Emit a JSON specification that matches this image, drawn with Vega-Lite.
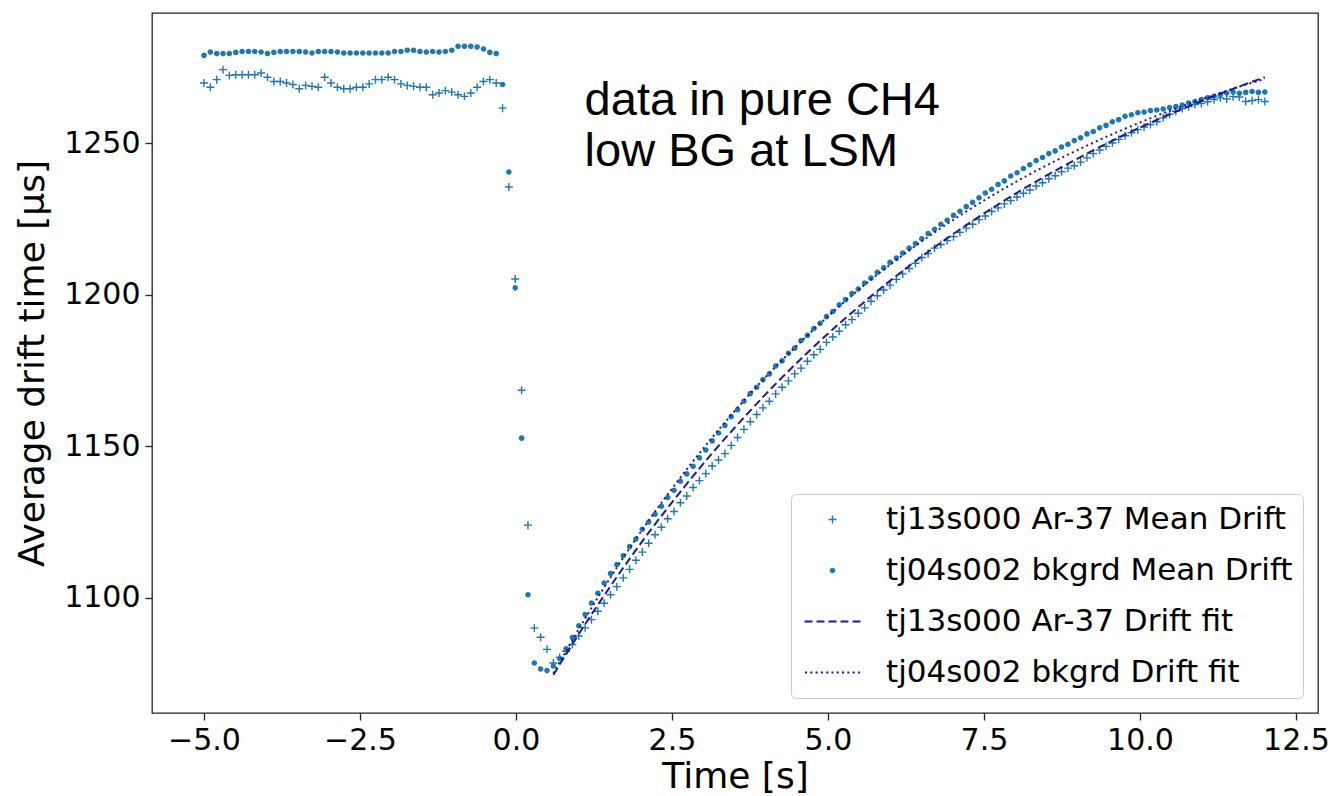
{
  "$schema": "https://vega.github.io/schema/vega-lite/v6.json",
  "width": 1166,
  "height": 700,
  "autosize": {"type": "none"},
  "padding": {"left": 152, "top": 13, "right": 19, "bottom": 83},
  "background": "white",
  "config": {
    "view": {"stroke": "#222222", "strokeWidth": 1.3},
    "axis": {
      "labelFont": "DejaVu Sans", "titleFont": "DejaVu Sans",
      "labelFontSize": 30, "titleFontSize": 36, "titleFontWeight": "normal",
      "labelColor": "#000000", "titleColor": "#000000",
      "tickColor": "#222222", "tickSize": 7, "tickWidth": 1.3,
      "domain": false, "grid": false, "labelPadding": 5
    },
    "legend": {
      "labelFont": "DejaVu Sans", "labelFontSize": 31, "labelColor": "#000000", "labelLimit": 800,
      "padding": 10, "rowPadding": 19, "symbolOffset": 16, "labelOffset": 38,
      "symbolStrokeWidth": 1.4, "symbolSize": 784,
      "fillColor": "rgba(255,255,255,0.85)", "strokeColor": "#cccccc", "cornerRadius": 5,
      "orient": "bottom-right", "offset": 15
    }
  },
  "datasets": {
    "scatter": [
      {"t": -5.000, "ar": 1269.9, "bg": 1279.0}, {"t": -4.898, "ar": 1268.5, "bg": 1280.1}, {"t": -4.796, "ar": 1271.0, "bg": 1279.6},
      {"t": -4.695, "ar": 1274.3, "bg": 1279.6}, {"t": -4.593, "ar": 1272.4, "bg": 1279.6}, {"t": -4.491, "ar": 1272.6, "bg": 1280.0},
      {"t": -4.389, "ar": 1272.6, "bg": 1280.3}, {"t": -4.287, "ar": 1272.6, "bg": 1280.3}, {"t": -4.186, "ar": 1272.6, "bg": 1280.3},
      {"t": -4.084, "ar": 1273.2, "bg": 1280.1}, {"t": -3.982, "ar": 1271.8, "bg": 1279.6}, {"t": -3.880, "ar": 1270.4, "bg": 1280.0},
      {"t": -3.778, "ar": 1270.4, "bg": 1280.3}, {"t": -3.677, "ar": 1269.9, "bg": 1280.3}, {"t": -3.575, "ar": 1269.4, "bg": 1280.3},
      {"t": -3.473, "ar": 1268.0, "bg": 1280.3}, {"t": -3.371, "ar": 1269.1, "bg": 1280.1}, {"t": -3.269, "ar": 1268.8, "bg": 1279.8},
      {"t": -3.168, "ar": 1268.5, "bg": 1280.3}, {"t": -3.066, "ar": 1271.8, "bg": 1280.3}, {"t": -2.964, "ar": 1269.9, "bg": 1280.3},
      {"t": -2.862, "ar": 1268.5, "bg": 1280.1}, {"t": -2.760, "ar": 1268.0, "bg": 1279.8}, {"t": -2.659, "ar": 1268.0, "bg": 1279.8},
      {"t": -2.557, "ar": 1268.5, "bg": 1279.8}, {"t": -2.455, "ar": 1268.5, "bg": 1279.8}, {"t": -2.353, "ar": 1269.6, "bg": 1279.8},
      {"t": -2.251, "ar": 1271.0, "bg": 1279.8}, {"t": -2.150, "ar": 1271.0, "bg": 1279.8}, {"t": -2.048, "ar": 1271.8, "bg": 1279.8},
      {"t": -1.946, "ar": 1271.0, "bg": 1280.3}, {"t": -1.844, "ar": 1269.6, "bg": 1280.3}, {"t": -1.742, "ar": 1269.1, "bg": 1280.7},
      {"t": -1.641, "ar": 1268.8, "bg": 1280.7}, {"t": -1.539, "ar": 1268.5, "bg": 1280.3}, {"t": -1.437, "ar": 1268.5, "bg": 1280.1},
      {"t": -1.335, "ar": 1266.0, "bg": 1280.3}, {"t": -1.233, "ar": 1266.6, "bg": 1280.1}, {"t": -1.132, "ar": 1267.4, "bg": 1280.3},
      {"t": -1.030, "ar": 1266.9, "bg": 1280.7}, {"t": -0.928, "ar": 1266.0, "bg": 1282.0}, {"t": -0.826, "ar": 1265.5, "bg": 1282.0},
      {"t": -0.724, "ar": 1266.6, "bg": 1282.0}, {"t": -0.623, "ar": 1268.5, "bg": 1281.8}, {"t": -0.521, "ar": 1270.4, "bg": 1281.1},
      {"t": -0.419, "ar": 1271.0, "bg": 1280.0}, {"t": -0.317, "ar": 1269.9, "bg": 1279.6}, {"t": -0.215, "ar": 1261.6, "bg": 1269.4},
      {"t": -0.114, "ar": 1235.6, "bg": 1240.5}, {"t": -0.012, "ar": 1205.2, "bg": 1202.3}, {"t": 0.090, "ar": 1168.5, "bg": 1152.7},
      {"t": 0.192, "ar": 1124.0, "bg": 1101.0}, {"t": 0.294, "ar": 1090.0, "bg": 1078.5}, {"t": 0.395, "ar": 1087.0, "bg": 1076.5},
      {"t": 0.497, "ar": 1083.0, "bg": 1076.0}, {"t": 0.599, "ar": 1078.5, "bg": 1077.5}, {"t": 0.701, "ar": 1080.3, "bg": 1080.0},
      {"t": 0.803, "ar": 1082.4, "bg": 1083.2}, {"t": 0.904, "ar": 1084.6, "bg": 1086.9}, {"t": 1.006, "ar": 1087.4, "bg": 1090.8},
      {"t": 1.108, "ar": 1090.1, "bg": 1094.5}, {"t": 1.210, "ar": 1092.8, "bg": 1098.3}, {"t": 1.312, "ar": 1095.6, "bg": 1101.5},
      {"t": 1.413, "ar": 1098.2, "bg": 1104.9}, {"t": 1.515, "ar": 1101.0, "bg": 1108.0}, {"t": 1.617, "ar": 1103.7, "bg": 1111.0},
      {"t": 1.719, "ar": 1106.6, "bg": 1113.9}, {"t": 1.821, "ar": 1109.4, "bg": 1116.9}, {"t": 1.922, "ar": 1112.4, "bg": 1119.4},
      {"t": 2.024, "ar": 1115.1, "bg": 1122.6}, {"t": 2.126, "ar": 1118.0, "bg": 1125.0}, {"t": 2.228, "ar": 1120.8, "bg": 1127.6},
      {"t": 2.330, "ar": 1123.3, "bg": 1130.2}, {"t": 2.431, "ar": 1126.1, "bg": 1133.1}, {"t": 2.533, "ar": 1128.5, "bg": 1135.5},
      {"t": 2.635, "ar": 1131.4, "bg": 1138.5}, {"t": 2.737, "ar": 1133.6, "bg": 1140.9}, {"t": 2.839, "ar": 1136.4, "bg": 1143.4},
      {"t": 2.940, "ar": 1138.7, "bg": 1146.2}, {"t": 3.042, "ar": 1141.0, "bg": 1148.8}, {"t": 3.144, "ar": 1143.5, "bg": 1151.8},
      {"t": 3.246, "ar": 1145.5, "bg": 1154.4}, {"t": 3.348, "ar": 1147.6, "bg": 1156.9}, {"t": 3.449, "ar": 1150.3, "bg": 1159.8},
      {"t": 3.551, "ar": 1152.9, "bg": 1162.1}, {"t": 3.653, "ar": 1155.6, "bg": 1164.9}, {"t": 3.755, "ar": 1158.1, "bg": 1167.4},
      {"t": 3.857, "ar": 1160.5, "bg": 1169.5}, {"t": 3.958, "ar": 1162.7, "bg": 1172.0}, {"t": 4.060, "ar": 1164.9, "bg": 1173.9},
      {"t": 4.162, "ar": 1167.3, "bg": 1176.5}, {"t": 4.264, "ar": 1169.5, "bg": 1178.2}, {"t": 4.366, "ar": 1171.6, "bg": 1180.7},
      {"t": 4.467, "ar": 1173.9, "bg": 1182.4}, {"t": 4.569, "ar": 1175.8, "bg": 1184.9}, {"t": 4.671, "ar": 1178.1, "bg": 1186.6},
      {"t": 4.773, "ar": 1180.2, "bg": 1188.9}, {"t": 4.875, "ar": 1182.0, "bg": 1190.6}, {"t": 4.976, "ar": 1184.3, "bg": 1192.8},
      {"t": 5.078, "ar": 1186.1, "bg": 1194.5}, {"t": 5.180, "ar": 1188.0, "bg": 1196.7}, {"t": 5.282, "ar": 1190.1, "bg": 1198.4},
      {"t": 5.384, "ar": 1191.8, "bg": 1200.4}, {"t": 5.485, "ar": 1193.9, "bg": 1201.9}, {"t": 5.587, "ar": 1195.7, "bg": 1203.9},
      {"t": 5.689, "ar": 1197.9, "bg": 1205.5}, {"t": 5.791, "ar": 1199.7, "bg": 1207.4}, {"t": 5.893, "ar": 1201.6, "bg": 1208.9},
      {"t": 5.994, "ar": 1203.2, "bg": 1210.7}, {"t": 6.096, "ar": 1205.1, "bg": 1212.1}, {"t": 6.198, "ar": 1206.9, "bg": 1213.8},
      {"t": 6.300, "ar": 1208.7, "bg": 1215.4}, {"t": 6.402, "ar": 1210.4, "bg": 1216.9}, {"t": 6.503, "ar": 1212.3, "bg": 1218.5},
      {"t": 6.605, "ar": 1213.6, "bg": 1220.2}, {"t": 6.707, "ar": 1215.4, "bg": 1221.6}, {"t": 6.809, "ar": 1216.6, "bg": 1223.3},
      {"t": 6.911, "ar": 1217.9, "bg": 1224.6}, {"t": 7.012, "ar": 1219.2, "bg": 1226.2}, {"t": 7.114, "ar": 1220.6, "bg": 1227.6},
      {"t": 7.216, "ar": 1222.0, "bg": 1229.1}, {"t": 7.318, "ar": 1223.3, "bg": 1230.5}, {"t": 7.420, "ar": 1224.8, "bg": 1232.0},
      {"t": 7.521, "ar": 1226.0, "bg": 1233.6}, {"t": 7.623, "ar": 1227.5, "bg": 1234.8}, {"t": 7.725, "ar": 1228.7, "bg": 1236.4},
      {"t": 7.827, "ar": 1230.0, "bg": 1237.6}, {"t": 7.929, "ar": 1231.1, "bg": 1239.2}, {"t": 8.030, "ar": 1232.3, "bg": 1240.3},
      {"t": 8.132, "ar": 1233.5, "bg": 1241.7}, {"t": 8.234, "ar": 1234.6, "bg": 1242.9}, {"t": 8.336, "ar": 1235.9, "bg": 1244.3},
      {"t": 8.438, "ar": 1237.0, "bg": 1245.3}, {"t": 8.539, "ar": 1238.3, "bg": 1246.6}, {"t": 8.641, "ar": 1239.3, "bg": 1247.5},
      {"t": 8.743, "ar": 1240.6, "bg": 1248.8}, {"t": 8.845, "ar": 1241.8, "bg": 1249.7}, {"t": 8.947, "ar": 1242.6, "bg": 1250.9},
      {"t": 9.048, "ar": 1243.8, "bg": 1251.8}, {"t": 9.150, "ar": 1245.2, "bg": 1253.1}, {"t": 9.252, "ar": 1246.6, "bg": 1253.9},
      {"t": 9.354, "ar": 1247.8, "bg": 1255.1}, {"t": 9.456, "ar": 1249.0, "bg": 1255.9}, {"t": 9.557, "ar": 1250.1, "bg": 1257.1},
      {"t": 9.659, "ar": 1251.3, "bg": 1257.8}, {"t": 9.761, "ar": 1252.5, "bg": 1258.9}, {"t": 9.863, "ar": 1253.5, "bg": 1259.4},
      {"t": 9.965, "ar": 1254.5, "bg": 1260.1}, {"t": 10.066, "ar": 1255.4, "bg": 1260.3}, {"t": 10.168, "ar": 1256.2, "bg": 1260.8},
      {"t": 10.270, "ar": 1257.1, "bg": 1261.0}, {"t": 10.372, "ar": 1258.4, "bg": 1261.3}, {"t": 10.474, "ar": 1259.6, "bg": 1261.8},
      {"t": 10.575, "ar": 1260.6, "bg": 1262.1}, {"t": 10.677, "ar": 1261.5, "bg": 1262.6}, {"t": 10.779, "ar": 1262.1, "bg": 1263.3},
      {"t": 10.881, "ar": 1262.8, "bg": 1263.8}, {"t": 10.983, "ar": 1263.1, "bg": 1264.4}, {"t": 11.084, "ar": 1263.7, "bg": 1265.0},
      {"t": 11.186, "ar": 1264.4, "bg": 1265.5}, {"t": 11.288, "ar": 1265.0, "bg": 1266.0}, {"t": 11.390, "ar": 1264.6, "bg": 1266.6},
      {"t": 11.492, "ar": 1265.4, "bg": 1266.9}, {"t": 11.593, "ar": 1265.3, "bg": 1266.5}, {"t": 11.695, "ar": 1263.8, "bg": 1266.8},
      {"t": 11.797, "ar": 1264.1, "bg": 1267.1}, {"t": 11.899, "ar": 1264.4, "bg": 1266.8}, {"t": 12.001, "ar": 1263.8, "bg": 1266.9}
    ],
    "fits": [
      {"t": 0.599, "arfit": 1074.6, "bgfit": 1075.0}, {"t": 1.108, "arfit": 1091.3, "bgfit": 1093.2},
      {"t": 1.617, "arfit": 1106.9, "bgfit": 1110.0}, {"t": 2.126, "arfit": 1121.5, "bgfit": 1125.5},
      {"t": 2.635, "arfit": 1135.0, "bgfit": 1139.7}, {"t": 3.144, "arfit": 1147.7, "bgfit": 1152.9},
      {"t": 3.653, "arfit": 1159.5, "bgfit": 1165.1}, {"t": 4.162, "arfit": 1170.6, "bgfit": 1176.3},
      {"t": 4.671, "arfit": 1180.9, "bgfit": 1186.6}, {"t": 5.180, "arfit": 1190.5, "bgfit": 1196.2},
      {"t": 5.689, "arfit": 1199.5, "bgfit": 1205.0}, {"t": 6.198, "arfit": 1207.9, "bgfit": 1213.1},
      {"t": 6.707, "arfit": 1215.7, "bgfit": 1220.6}, {"t": 7.216, "arfit": 1223.0, "bgfit": 1227.5},
      {"t": 7.725, "arfit": 1229.8, "bgfit": 1233.9}, {"t": 8.234, "arfit": 1236.2, "bgfit": 1239.8},
      {"t": 8.743, "arfit": 1242.1, "bgfit": 1245.2}, {"t": 9.252, "arfit": 1247.7, "bgfit": 1250.2},
      {"t": 9.761, "arfit": 1252.9, "bgfit": 1254.8}, {"t": 10.270, "arfit": 1257.7, "bgfit": 1259.1},
      {"t": 10.779, "arfit": 1262.2, "bgfit": 1263.0}, {"t": 11.288, "arfit": 1266.4, "bgfit": 1266.6},
      {"t": 11.797, "arfit": 1270.3, "bgfit": 1270.0}, {"t": 12.001, "arfit": 1271.8, "bgfit": 1271.2}
    ],
    "notes": [
      {"note": "data in pure CH4", "line": 1},
      {"note": "low BG at LSM", "line": 2}
    ]
  },
  "layer": [
    {
      "data": {"name": "scatter"},
      "transform": [{"fold": ["ar", "bg"], "as": ["series", "v"]}],
      "mark": {"type": "point", "size": 784, "strokeWidth": 1.4, "opacity": 1},
      "encoding": {
        "x": {
          "field": "t", "type": "quantitative",
          "scale": {"domain": [-5.833, 12.853], "nice": false, "zero": false},
          "axis": {"values": [-5, -2.5, 0, 2.5, 5, 7.5, 10, 12.5], "format": ".1f", "title": "Time [s]", "labelFlush": false, "labelOverlap": false, "titlePadding": 4}
        },
        "y": {
          "field": "v", "type": "quantitative",
          "scale": {"domain": [1062, 1293], "nice": false, "zero": false},
          "axis": {"values": [1100, 1150, 1200, 1250], "format": "d", "title": "Average drift time [μs]", "labelOverlap": false, "titlePadding": 12}
        },
        "shape": {
          "field": "series", "type": "nominal",
          "scale": {
            "domain": ["ar", "bg", "arfit", "bgfit"],
            "range": [
              "M-0.286,0H0.286M0,-0.286V0.286",
              "M-0.2,0A0.2,0.2,0,1,1,0.2,0A0.2,0.2,0,1,1,-0.2,0Z",
              "M-2,-0.07H-1.43V0.07H-2ZM-1.14,-0.07H-0.57V0.07H-1.14ZM-0.29,-0.07H0.29V0.07H-0.29ZM0.57,-0.07H1.14V0.07H0.57ZM1.43,-0.07H2V0.07H1.43Z",
              "M-1.97,-0.07H-1.82V0.07H-1.97ZM-1.59,-0.07H-1.44V0.07H-1.59ZM-1.21,-0.07H-1.06V0.07H-1.21ZM-0.83,-0.07H-0.68V0.07H-0.83ZM-0.45,-0.07H-0.3V0.07H-0.45ZM-0.07,-0.07H0.07V0.07H-0.07ZM0.3,-0.07H0.45V0.07H0.3ZM0.68,-0.07H0.83V0.07H0.68ZM1.06,-0.07H1.21V0.07H1.06ZM1.44,-0.07H1.59V0.07H1.44ZM1.82,-0.07H1.97V0.07H1.82Z"
            ]
          },
          "legend": {
            "title": null,
            "labelExpr": "datum.value === 'ar' ? 'tj13s000 Ar-37 Mean Drift' : datum.value === 'bg' ? 'tj04s002 bkgrd Mean Drift' : datum.value === 'arfit' ? 'tj13s000 Ar-37 Drift fit' : 'tj04s002 bkgrd Drift fit'"
          }
        },
        "fill": {
          "field": "series", "type": "nominal",
          "scale": {"domain": ["ar", "bg", "arfit", "bgfit"], "range": ["transparent", "#1f77b4", "#1c1c96", "#1c1c96"]},
          "legend": {
            "title": null,
            "labelExpr": "datum.value === 'ar' ? 'tj13s000 Ar-37 Mean Drift' : datum.value === 'bg' ? 'tj04s002 bkgrd Mean Drift' : datum.value === 'arfit' ? 'tj13s000 Ar-37 Drift fit' : 'tj04s002 bkgrd Drift fit'"
          }
        },
        "stroke": {
          "field": "series", "type": "nominal",
          "scale": {"domain": ["ar", "bg", "arfit", "bgfit"], "range": ["#1f77b4", "transparent", "transparent", "transparent"]},
          "legend": {
            "title": null,
            "labelExpr": "datum.value === 'ar' ? 'tj13s000 Ar-37 Mean Drift' : datum.value === 'bg' ? 'tj04s002 bkgrd Mean Drift' : datum.value === 'arfit' ? 'tj13s000 Ar-37 Drift fit' : 'tj04s002 bkgrd Drift fit'"
          }
        }
      }
    },
    {
      "data": {"name": "fits"},
      "mark": {"type": "line", "color": "#1c1c96", "strokeWidth": 2, "strokeDash": [8, 4], "interpolate": "monotone"},
      "encoding": {
        "x": {"field": "t", "type": "quantitative"},
        "y": {"field": "arfit", "type": "quantitative"}
      }
    },
    {
      "data": {"name": "fits"},
      "mark": {"type": "line", "color": "#1c1c96", "strokeWidth": 2, "strokeDash": [2, 3.3], "interpolate": "monotone"},
      "encoding": {
        "x": {"field": "t", "type": "quantitative"},
        "y": {"field": "bgfit", "type": "quantitative"}
      }
    },
    {
      "data": {"name": "notes"},
      "transform": [{"filter": "datum.line === 1"}],
      "mark": {"type": "text", "font": "Liberation Sans", "fontSize": 47, "align": "left", "baseline": "alphabetic", "fill": "#000000", "clip": false},
      "encoding": {
        "x": {"datum": 1.1},
        "y": {"datum": 1259.5},
        "text": {"field": "note"}
      }
    },
    {
      "data": {"name": "notes"},
      "transform": [{"filter": "datum.line === 2"}],
      "mark": {"type": "text", "font": "Liberation Sans", "fontSize": 47, "align": "left", "baseline": "alphabetic", "fill": "#000000", "clip": false},
      "encoding": {
        "x": {"datum": 1.1},
        "y": {"datum": 1242.5},
        "text": {"field": "note"}
      }
    }
  ]
}
